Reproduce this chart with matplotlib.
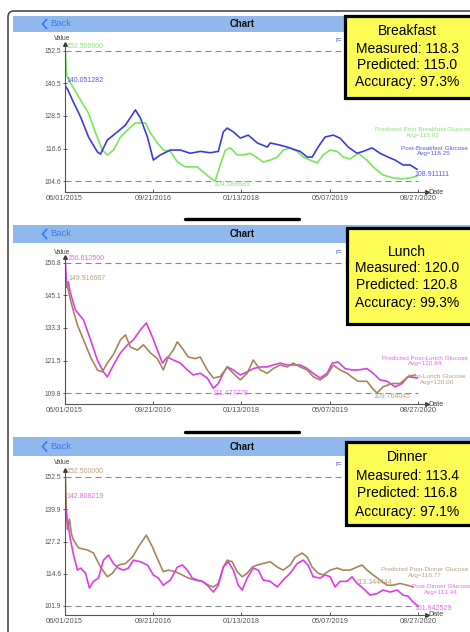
import numpy as np
import matplotlib
matplotlib.use("Agg")
import matplotlib.pyplot as plt
from matplotlib.patches import Rectangle, FancyBboxPatch

plt.rcParams['font.family'] = ['Liberation Sans', 'DejaVu Sans']

W, H = 470, 632

# ---------------- data ----------------
start = np.datetime64('2015-06-01')
tick_dates = ['2015-06-01', '2016-09-21', '2018-01-13', '2019-05-07', '2020-08-27']

# Breakfast (days since 06/01/2015)
bf_meas_days = [0, 16, 43, 87, 130, 178, 195, 232, 287, 330, 384, 411, 449, 481, 519, 573, 627, 681,
                735, 789, 833, 860, 881, 914, 952, 995, 1044, 1098, 1114, 1168, 1206, 1238, 1276, 1314,
                1341, 1373, 1411, 1455, 1492, 1536, 1584, 1617, 1665, 1709, 1752, 1790, 1833, 1871, 1909]
bf_meas = [140.051282, 138.5, 134.4, 128.2, 120.8, 115.3, 114.5, 119.7, 122.7, 125.2, 130.8, 127.8, 120.8,
           112.3, 114.2, 116.0, 116.0, 114.8, 115.5, 115.0, 115.5, 122.7, 124.1, 122.7, 120.4, 121.5, 118.6,
           117.1, 118.6, 117.8, 117.1, 116.3, 115.5, 113.4, 113.4, 117.1, 120.8, 121.5, 120.4, 117.1, 114.8,
           115.5, 116.8, 114.8, 113.4, 112.3, 110.5, 110.5, 108.911111]
bf_pred_days = [0, 5, 11, 22, 43, 65, 87, 130, 168, 205, 232, 265, 303, 341, 384, 438, 465, 503, 535, 573,
                611, 654, 719, 752, 789, 816, 843, 871, 898, 935, 968, 1006, 1044, 1076, 1114, 1152, 1184,
                1222, 1260, 1292, 1330, 1368, 1400, 1438, 1476, 1509, 1546, 1590, 1638, 1671, 1725, 1779,
                1833, 1871, 1909]
bf_pred = [141.0, 152.5, 143.5, 142.0, 139.5, 137.0, 134.4, 129.6, 122.3, 116.0, 114.2, 116.0, 120.8, 123.4,
           126.0, 126.0, 122.3, 118.6, 116.0, 115.5, 111.6, 109.8, 109.8, 107.9, 105.7, 104.588889, 110.5,
           116.0, 116.8, 114.2, 114.2, 114.8, 113.1, 111.6, 112.3, 113.4, 116.0, 116.8, 115.5, 113.4, 112.3,
           111.2, 114.2, 116.0, 115.5, 113.4, 112.7, 114.8, 112.3, 109.8, 106.8, 105.7, 105.4, 105.7, 106.4]

# Lunch
ln_meas_days = [0, 11, 32, 50, 70, 103, 141, 178, 205, 232, 265, 303, 330, 357, 395, 427, 465, 503, 535,
                562, 589, 611, 638, 670, 708, 735, 773, 806, 843, 881, 914, 952, 989, 1022, 1060, 1098,
                1130, 1168, 1206, 1238, 1276, 1314, 1346, 1384, 1422, 1455, 1492, 1530, 1563, 1590, 1638,
                1665, 1692, 1725, 1774, 1817, 1860, 1898]
ln_meas = [146.0, 149.916667, 143.5, 139.0, 134.4, 129.0, 122.8, 118.1, 117.4, 120.6, 123.7, 129.0, 130.8,
           126.4, 125.3, 127.2, 124.3, 122.2, 118.1, 122.8, 125.3, 128.3, 125.9, 122.8, 122.2, 122.8, 118.1,
           115.2, 115.7, 119.2, 116.9, 114.5, 116.9, 121.7, 118.1, 116.9, 118.6, 119.9, 119.2, 120.6, 119.2,
           118.1, 115.7, 114.5, 116.3, 119.9, 118.1, 116.9, 115.2, 114.0, 114.0, 111.6, 109.764045, 112.0,
           113.2, 113.2, 115.7, 116.3]
ln_pred_days = [0, 5, 12, 20, 32, 59, 103, 141, 178, 211, 232, 265, 303, 341, 373, 411, 443, 476, 503, 530,
                557, 589, 627, 665, 697, 735, 773, 806, 833, 860, 881, 914, 952, 989, 1022, 1060, 1098, 1130,
                1168, 1206, 1238, 1276, 1314, 1346, 1384, 1422, 1449, 1481, 1519, 1557, 1590, 1638, 1671,
                1709, 1746, 1790, 1828, 1860, 1909]
ln_pred = [150.0, 156.8125, 148.0, 150.0, 146.0, 139.8, 136.2, 129.0, 121.7, 117.4, 115.6, 119.9, 124.3,
           127.2, 129.0, 132.6, 135.1, 130.0, 125.3, 120.6, 122.8, 121.7, 120.6, 118.1, 116.3, 116.9, 115.2,
           111.477778, 113.2, 116.9, 119.2, 118.1, 116.3, 117.4, 118.6, 119.2, 119.2, 119.9, 120.6, 119.9,
           119.9, 119.9, 118.6, 116.9, 115.2, 116.9, 120.6, 121.0, 118.6, 118.1, 118.1, 118.6, 116.9, 114.5,
           114.0, 112.0, 113.2, 115.7, 115.2]

# Dinner
dn_meas_days = [0, 5, 16, 32, 49, 70, 87, 114, 135, 157, 184, 211, 238, 265, 292, 319, 346, 373, 411, 449,
                481, 508, 535, 573, 611, 638, 665, 692, 719, 746, 773, 806, 833, 860, 887, 914, 941, 962,
                989, 1022, 1049, 1076, 1114, 1152, 1184, 1222, 1260, 1292, 1319, 1346, 1384, 1411, 1438,
                1465, 1492, 1530, 1557, 1584, 1617, 1655, 1692, 1725, 1763, 1801, 1833, 1860, 1887, 1914]
dn_meas = [142.808219, 141.0, 135.6, 128.0, 122.0, 116.0, 116.8, 114.8, 109.0, 111.6, 112.9, 119.9, 121.9,
           118.6, 116.8, 116.0, 116.8, 119.9, 119.3, 118.0, 114.1, 112.9, 110.1, 112.1, 117.2, 118.0, 116.0,
           112.9, 112.1, 111.6, 110.1, 107.4, 110.1, 117.2, 119.3, 116.0, 110.1, 108.2, 112.9, 116.8, 116.0,
           112.1, 111.6, 109.4, 112.1, 114.8, 118.6, 119.9, 118.0, 113.4, 112.9, 114.1, 113.4, 109.4, 111.6,
           111.6, 113.4, 110.8, 108.9, 106.2, 106.8, 108.2, 107.4, 108.2, 106.2, 105.8, 103.5, 101.942529]
dn_pred_days = [0, 5, 11, 16, 27, 38, 49, 76, 124, 157, 195, 232, 260, 292, 330, 368, 400, 443, 476, 503,
                535, 562, 600, 638, 670, 708, 746, 779, 806, 833, 860, 881, 908, 935, 962, 989, 1017, 1044,
                1076, 1114, 1152, 1184, 1222, 1249, 1287, 1314, 1341, 1373, 1400, 1438, 1476, 1509, 1546,
                1584, 1611, 1638, 1671, 1709, 1746, 1779, 1817, 1855, 1887]
dn_pred = [135.0, 152.5, 138.0, 132.0, 136.0, 130.0, 127.8, 124.7, 123.9, 122.7, 117.2, 113.4, 114.8, 118.0,
           118.6, 121.1, 125.1, 129.7, 125.1, 120.5, 115.4, 116.0, 115.4, 114.1, 112.9, 112.1, 111.6, 110.1,
           109.4, 110.8, 117.2, 119.9, 119.3, 115.4, 113.4, 114.8, 117.2, 118.0, 118.6, 119.3, 117.2, 116.0,
           118.0, 121.1, 122.7, 121.1, 117.2, 114.8, 114.1, 116.0, 116.8, 116.0, 116.0, 117.2, 118.0, 116.0,
           114.1, 112.1, 110.1, 110.1, 110.8, 110.1, 109.4]
dn_pred_note = 113.344444   # value label printed near the end of the dinner prediction

meals = ['Breakfast', 'Lunch', 'Dinner']
box_measured = [118.3, 120.0, 113.4]
box_predicted = [115.0, 120.8, 116.8]
box_accuracy = [97.3, 99.3, 97.1]
legend_pred_avg = [115.02, 120.84, 116.77]
legend_meas_avg = [118.25, 120.00, 113.44]

# ---------------- layout (pixels) ----------------
AX_L, AX_R, TICK_R = 64.5, 427, 418
YELLOW = '#fcfc55'
BLUE, GREEN = '#3c3cdc', '#78e85a'
MAGENTA, BROWN = '#e03ce6', '#a6865c'

charts = [
    dict(series=[(bf_pred_days, bf_pred, GREEN, '#8fe27c'), (bf_meas_days, bf_meas, BLUE, '#5a5ae2')],
         header=(16, 32), value_y=38, arrow=44, ymax=51, ymin=181, axis=192,
         box=(345, 16, 98), lines=[31, 49, 65, 82], r_y=40,
         legend=[(423, 132.5), (434, 151)],
         labels=[('max', 0, (1, 4)), ('first', 1, (2, 4)), ('min', 0, (-2, -4)), ('last', 1, (-3, -5))]),
    dict(series=[(ln_pred_days, ln_pred, MAGENTA, '#e070e6'), (ln_meas_days, ln_meas, BROWN, '#bb9f80')],
         header=(225, 243), value_y=252, arrow=257, ymax=263, ymin=393, axis=404,
         box=(347, 228, 324), lines=[252, 268, 285, 303], r_y=253,
         legend=[(425, 361), (437, 379.5)],
         labels=[('max', 0, (2, 4)), ('max', 1, (2, 4)), ('min', 0, (-1, -5)), ('min', 1, (-4, -4))]),
    dict(series=[(dn_pred_days, dn_pred, BROWN, '#bb9f80'), (dn_meas_days, dn_meas, MAGENTA, '#e070e6')],
         header=(437, 456), value_y=463, arrow=470, ymax=477, ymin=606, axis=615,
         box=(346, 442, 525), lines=[457, 476, 493, 512], r_y=464,
         legend=[(425, 572.5), (441, 589.5)],
         labels=[('max', 0, (1, 5)), ('first', 1, (2, 5)), ('note', 0, (-58, 4)), ('last', 1, (-4, -3))],
         note=dn_pred_note),
]
home_bars = [219, 432]


def fig_rect(x0, y0, x1, y1):
    return [x0 / W, 1 - y1 / H, (x1 - x0) / W, (y1 - y0) / H]


fig = plt.figure(figsize=(W / 100, H / 100), dpi=100, facecolor='white')

bg = fig.add_axes([0, 0, 1, 1], zorder=0)
bg.set_xlim(0, W)
bg.set_ylim(H, 0)
bg.axis('off')
fg = fig.add_axes([0, 0, 1, 1], zorder=10)
fg.set_xlim(0, W)
fg.set_ylim(H, 0)
fg.axis('off')
fg.patch.set_visible(False)

# outer screenshot frame
bg.add_patch(FancyBboxPatch((8, 11), 520, 700, boxstyle='round,pad=0,rounding_size=6',
                            fc='white', ec='#4a4a4a', lw=1.2))

for y in home_bars:
    bg.plot([185, 299], [y, y], color='black', lw=2.4, solid_capstyle='round')

tick_days = (np.array(tick_dates, dtype='datetime64[D]') - start).astype(int)
tick_labels = [f'{d[5:7]}/{d[8:10]}/{d[0:4]}' for d in tick_dates]
x_end = tick_days[-1] * (AX_R - AX_L) / (TICK_R - AX_L)

for i, c in enumerate(charts):
    h0, h1 = c['header']
    hy = (h0 + h1) / 2
    bg.add_patch(Rectangle((13, h0), 470, h1 - h0, fc='#91b8ec', ec='none'))
    bg.plot([46.5, 42.5, 46.5], [hy - 4.5, hy, hy + 4.5], color='#3a7ef0', lw=1.3)
    bg.text(50, hy, 'Back', fontsize=6.8, color='#3a7ef0', va='center', ha='left')
    bg.text(242, hy, 'Chart', fontsize=6.9, fontweight='bold', color='#111', va='center', ha='center')

    bg.text(62, c['value_y'], 'Value', fontsize=4.8, color='#444', ha='center', va='center')
    bg.text(428, c['axis'], 'Date', fontsize=5.2, color='#444', ha='left', va='center')
    bg.text(335, c['r_y'], 'r=', fontsize=5.2, color='#5050e0', ha='left', va='center')

    ax = fig.add_axes(fig_rect(AX_L, c['arrow'], AX_R, c['axis']), zorder=5)
    ax.patch.set_visible(False)
    vals_all = np.concatenate([np.array(s[1]) for s in c['series']])
    vmin, vmax = vals_all.min(), vals_all.max()
    scale = (c['ymin'] - c['ymax']) / (vmax - vmin)
    ax.set_xlim(0, x_end)
    ax.set_ylim(vmin - (c['axis'] - c['ymin']) / scale, vmax + (c['ymax'] - c['arrow']) / scale)

    ax.hlines(vmax, 0, x_end, colors='#8a8a8a', lw=0.8, linestyles=(0, (5.4, 3.6)))
    ax.hlines(vmin, 0, tick_days[-1], colors='#8a8a8a', lw=0.8, linestyles=(0, (5.4, 3.6)))

    for days, vals, col, _ in c['series']:
        ax.plot(days, vals, color=col, lw=1.2, solid_joinstyle='round')

    for kind, si, off in c['labels']:
        days, vals, _, lcol = c['series'][si]
        vals = np.array(vals)
        if kind == 'max':
            k = int(vals.argmax())
        elif kind == 'min':
            k = int(vals.argmin())
        elif kind == 'first':
            k = 0
        else:
            k = len(vals) - 1
        txt = vals[k] if kind != 'note' else c['note']
        ax.annotate(f'{txt:.6f}', (days[k], vals[k]), xytext=off, textcoords='offset pixels',
                    fontsize=5, color=lcol, ha='left', va='center', annotation_clip=False)

    for side in ['top', 'right']:
        ax.spines[side].set_visible(False)
    for side in ['left', 'bottom']:
        ax.spines[side].set_color('#555')
        ax.spines[side].set_linewidth(0.8)
    ax.plot(1, 0, '>', transform=ax.transAxes, clip_on=False, ms=2.6, color='#333')
    ax.plot(0, 1, '^', transform=ax.transAxes, clip_on=False, ms=2.6, color='#333')

    ax.set_yticks(np.linspace(vmin, vmax, 5))
    ax.set_yticklabels([f'{v:.1f}' for v in np.linspace(vmin, vmax, 5)])
    ax.set_xticks(tick_days)
    ax.set_xticklabels(tick_labels)
    ax.tick_params(axis='y', direction='inout', length=3.5, width=0.7, pad=0.5,
                   labelsize=4.8, colors='#555')
    ax.tick_params(axis='x', direction='in', length=2.5, width=0.7, pad=2.5,
                   labelsize=5.3, colors='#555')

    # legend texts
    (lx0, ly0), (lx1, ly1) = c['legend']
    bg.text(lx0, ly0, f'Predicted Post-{meals[i]} Glucose\nAvg={legend_pred_avg[i]:.2f}',
            fontsize=4.6, color=c['series'][0][3], ha='center', va='center', multialignment='center',
            linespacing=1.15)
    bg.text(lx1, ly1, f'Post-{meals[i]} Glucose\nAvg={legend_meas_avg[i]:.2f}',
            fontsize=4.6, color=c['series'][1][3], ha='center', va='center', multialignment='center',
            linespacing=1.15)

    # yellow summary box
    bx, by0, by1 = c['box']
    fg.add_patch(Rectangle((bx, by0), 150, by1 - by0, fc=YELLOW, ec='black', lw=2.3, clip_on=False))
    texts = [meals[i], f'Measured: {box_measured[i]:.1f}', f'Predicted: {box_predicted[i]:.1f}',
             f'Accuracy: {box_accuracy[i]:.1f}%']
    for t, y in zip(texts, c['lines']):
        fg.text(407, y, t, fontsize=10, color='black', ha='center', va='center')

fig.savefig('out.png', dpi=100, facecolor='white')
